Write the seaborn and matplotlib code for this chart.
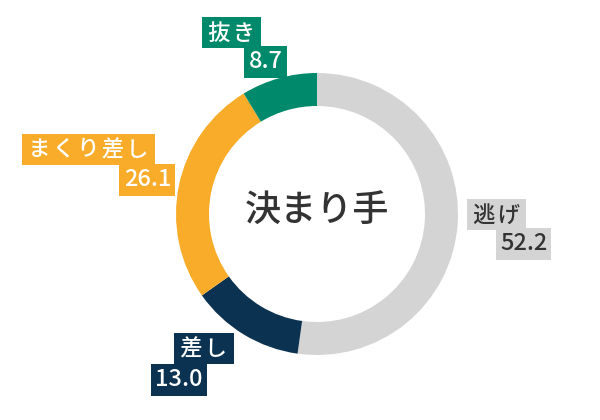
import numpy as np
import matplotlib
matplotlib.use("Agg")
import matplotlib.pyplot as plt
import seaborn as sns

# ---- data ----
categories = ["逃げ", "差し", "まくり差し", "抜き"]
values = [52.2, 13.0, 26.1, 8.7]
value_labels = ["52.2", "13.0", "26.1", "8.7"]
center_title = "決まり手"

# ---- style ----
colors = ["#d4d4d4", "#0b3251", "#f9ac2a", "#00896a"]
text_colors = ["#333333", "white", "white", "white"]
# label offsets (pixels) from the slice's anchor point: (name dx, name dy, value dx, value dy)
label_offsets = [(22, -10, 49, 19), (-31, 0, -56, 31), (-74, -32, -15, -2), (-43, -29, -9, 0)]

sns.set_theme(style="white")
plt.rcParams["font.family"] = ["Noto Sans CJK JP", "DejaVu Sans"]

W, H, DPI = 600, 420, 100
CX, CY, RPX = 317, 214, 141  # pixel centre & radius

fig = plt.figure(figsize=(W / DPI, H / DPI), dpi=DPI)
ax = fig.add_axes([0, 0, 1, 1])
ax.pie(values, colors=colors, startangle=90, counterclock=False, radius=1.0,
       wedgeprops=dict(width=0.234, edgecolor="none", linewidth=0))
ax.set_xlim(-CX / RPX, (W - CX) / RPX)
ax.set_ylim(-(H - CY) / RPX, CY / RPX)
ax.set_aspect("auto")
ax.axis("off")

ax.text(0, 0.02, center_title, ha="center", va="center", fontsize=26,
        color="#333333", fontweight="medium")

total = sum(values)
start = 90.0
for cat, v, vl, bg, tc, off in zip(categories, values, value_labels, colors, text_colors, label_offsets):
    span = 360.0 * v / total
    mid = np.deg2rad(start - span / 2)
    start -= span
    ax_ = 1.12 * np.cos(mid)
    ay_ = 1.12 * np.sin(mid)
    ndx, ndy, vdx, vdy = off
    box = dict(boxstyle="square,pad=0.18", fc=bg, ec="none")
    spaced = "\u200a" + "\u200a".join(cat) + "\u200a"
    ax.text(ax_ + ndx / RPX, ay_ - ndy / RPX, spaced, ha="center", va="center",
            fontsize=16, color=tc, bbox=box, fontweight="medium")
    ax.text(ax_ + vdx / RPX, ay_ - vdy / RPX, vl, ha="center", va="center",
            fontsize=17, color=tc, bbox=box, fontweight="medium")

fig.savefig("out.png", dpi=DPI, facecolor="white")
